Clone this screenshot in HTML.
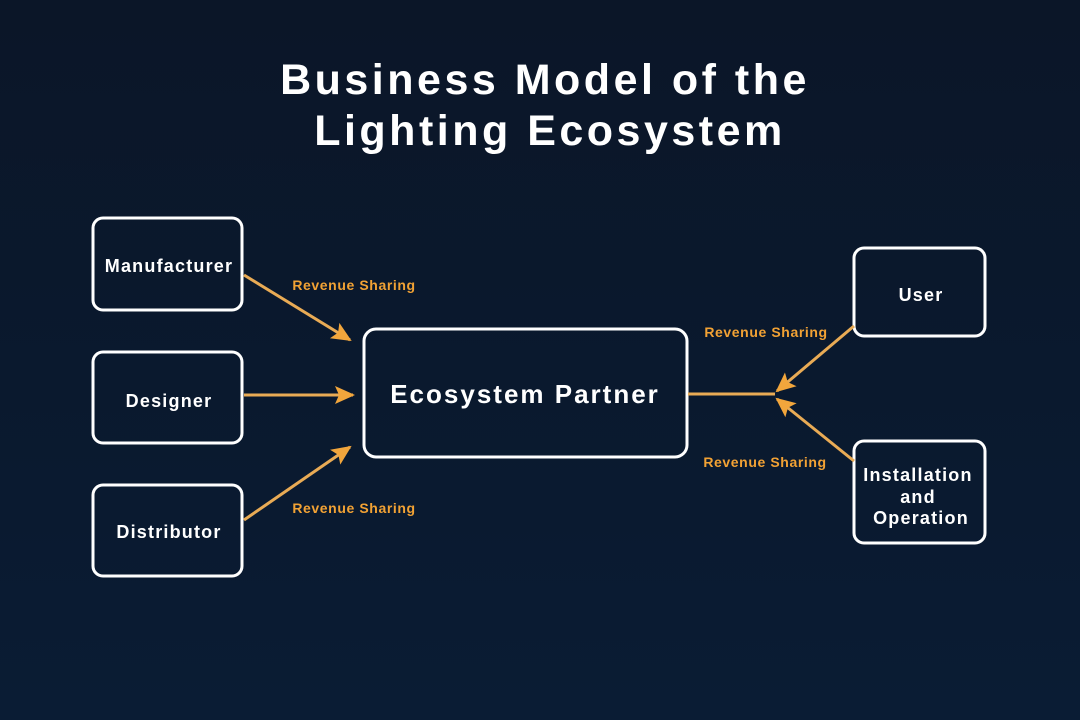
<!DOCTYPE html><html><head><style>body{margin:0;width:1080px;height:720px;overflow:hidden;background:linear-gradient(#0b1628,#0a1a30 70%,#0a1c34);}</style></head><body>
<svg width="1080" height="720" xmlns="http://www.w3.org/2000/svg" style="position:absolute;left:0;top:0">
<defs><marker id="b" markerWidth="22" markerHeight="22" refX="18" refY="11" orient="auto" markerUnits="userSpaceOnUse" viewBox="0 0 22 22"><path d="M0,2 L20,11 L0,20 L4,11z" fill="#f2a63c"/></marker></defs>
<g font-family="Liberation Sans, sans-serif" font-weight="bold" fill="#fff" text-anchor="middle">
<text x="545" y="94" font-size="43" letter-spacing="3.5">Business Model of the</text>
<text x="550" y="145" font-size="43" letter-spacing="3.5">Lighting Ecosystem</text>
</g>
<g fill="none" stroke="#fff" stroke-width="3">
<rect x="93" y="218" width="149" height="92" rx="10"/>
<rect x="93" y="352" width="149" height="91" rx="10"/>
<rect x="93" y="485" width="149" height="91" rx="10"/>
<rect x="364" y="329" width="323" height="128" rx="12"/>
<rect x="854" y="248" width="131" height="88" rx="10"/>
<rect x="854" y="441" width="131" height="102" rx="10"/>
</g>
<g stroke="#e9ab55" stroke-width="3" fill="none">
<line x1="244" y1="275" x2="350" y2="340" marker-end="url(#b)"/>
<line x1="244" y1="395" x2="353" y2="395" marker-end="url(#b)"/>
<line x1="244" y1="520" x2="350" y2="447" marker-end="url(#b)"/>
<line x1="688" y1="394" x2="775" y2="394"/>
<line x1="854" y1="326" x2="777" y2="391" marker-end="url(#b)"/>
<line x1="854" y1="461" x2="777" y2="399" marker-end="url(#b)"/>
</g>
<g font-family="Liberation Sans, sans-serif" font-weight="bold" fill="#f2a234" font-size="14" letter-spacing="0.6" text-anchor="middle">
<text x="354" y="290">Revenue Sharing</text>
<text x="354" y="513">Revenue Sharing</text>
<text x="766" y="337">Revenue Sharing</text>
<text x="765" y="467">Revenue Sharing</text>
</g>
<g font-family="Liberation Sans, sans-serif" font-weight="bold" fill="#fff" font-size="18" letter-spacing="1.2" text-anchor="middle">
<text x="169" y="272">Manufacturer</text>
<text x="169" y="407">Designer</text>
<text x="169" y="538">Distributor</text>
<text x="921" y="301">User</text>
<text x="918" y="481">Installation</text>
<text x="918" y="503">and</text>
<text x="921" y="524">Operation</text>
<text x="525" y="403" font-size="26" letter-spacing="2">Ecosystem Partner</text>
</g>
</svg></body></html>
